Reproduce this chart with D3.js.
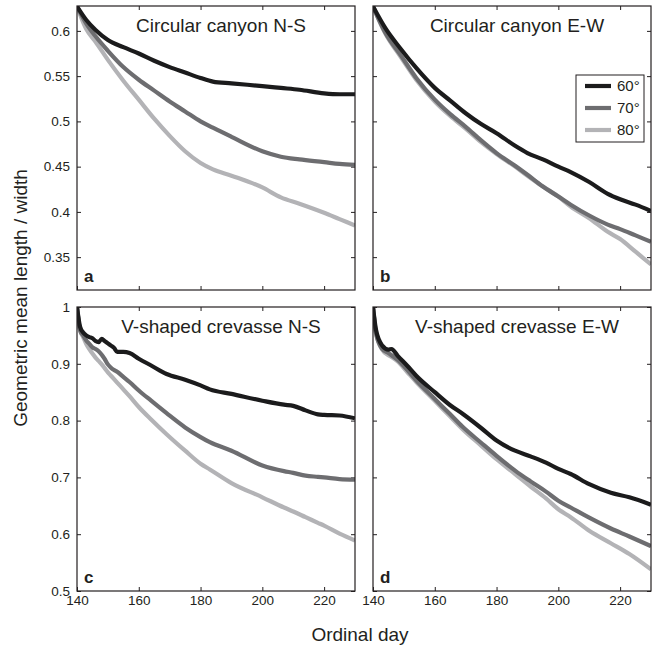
<!DOCTYPE html>
<html>
<head>
<meta charset="utf-8">
<script src="https://cdnjs.cloudflare.com/ajax/libs/d3/7.8.5/d3.min.js"></script>
<style>
	body { margin: 0; background: #fff; }
	text { font-family: "Liberation Sans", Arial, sans-serif; fill: #231f20; }
</style>
</head>
<body>
<div id="mainchart"></div>
<script>
// Datos
// ========================
var seriesNames = ["60°", "70°", "80°"];
var xTicks = [140, 160, 180, 200, 220];
var yTicksTop = [0.35, 0.4, 0.45, 0.5, 0.55, 0.6];
var yTicksBottom = [0.5, 0.6, 0.7, 0.8, 0.9, 1];

// a - Circular canyon N-S
var daysA = [140,143,146,150,155,160,165,170,175,180,184,190,200,206,212,220,225,230];
var a60 = [0.627,0.612,0.601,0.590,0.582,0.575,0.567,0.560,0.554,0.548,0.544,0.542,0.539,0.537,0.535,0.531,0.530,0.530];
var a70 = [0.627,0.608,0.594,0.578,0.560,0.546,0.534,0.522,0.511,0.500,0.493,0.483,0.467,0.461,0.458,0.455,0.453,0.452];
var a80 = [0.627,0.602,0.588,0.568,0.545,0.524,0.503,0.484,0.467,0.454,0.447,0.440,0.427,0.416,0.409,0.399,0.392,0.385];

// b - Circular canyon E-W
var daysB = [140,144,149,154,160,165,170,175,180,186,190,195,200,204,210,216,220,225,230];
var b60 = [0.627,0.603,0.580,0.559,0.537,0.523,0.509,0.497,0.487,0.473,0.465,0.458,0.450,0.444,0.433,0.420,0.414,0.408,0.401];
var b70 = [0.627,0.598,0.573,0.548,0.524,0.508,0.494,0.479,0.465,0.451,0.441,0.428,0.417,0.408,0.396,0.386,0.381,0.374,0.367];
var b80 = [0.627,0.597,0.571,0.546,0.522,0.506,0.492,0.477,0.464,0.450,0.440,0.428,0.417,0.406,0.393,0.378,0.370,0.356,0.342];

// c - V-shaped crevasse N-S
var daysC = [140,141,142,143,144,145,146,147,148,149,150,151,152,153,155,157,160,164,169,175,180,183,190,200,207,210,214,218,220,225,230];
var c60 = [1.0,0.965,0.955,0.950,0.947,0.945,0.940,0.938,0.944,0.940,0.936,0.932,0.928,0.921,0.921,0.919,0.909,0.897,0.882,0.872,0.862,0.855,0.847,0.835,0.828,0.826,0.818,0.811,0.810,0.809,0.804];
var c70 = [1.0,0.959,0.950,0.941,0.935,0.929,0.926,0.922,0.916,0.908,0.899,0.893,0.889,0.886,0.877,0.868,0.853,0.835,0.813,0.788,0.771,0.762,0.747,0.721,0.711,0.708,0.703,0.701,0.700,0.697,0.696];
var c80 = [1.0,0.959,0.947,0.935,0.926,0.918,0.911,0.905,0.899,0.892,0.885,0.879,0.873,0.867,0.855,0.843,0.824,0.802,0.776,0.747,0.724,0.714,0.690,0.665,0.647,0.640,0.630,0.620,0.615,0.601,0.589];

// d - V-shaped crevasse E-W
var daysD = [140,141,143,145,146,148,151,154,160,165,169,175,180,186,191,196,200,204,210,217,223,230];
var d60 = [1.0,0.959,0.932,0.925,0.926,0.914,0.897,0.879,0.850,0.827,0.812,0.787,0.765,0.747,0.737,0.726,0.715,0.706,0.688,0.673,0.665,0.652];
var d70 = [1.0,0.953,0.926,0.919,0.915,0.907,0.890,0.871,0.838,0.811,0.789,0.761,0.738,0.712,0.693,0.675,0.659,0.647,0.629,0.610,0.596,0.579];
var d80 = [1.0,0.953,0.925,0.915,0.912,0.904,0.886,0.868,0.835,0.807,0.785,0.756,0.732,0.706,0.684,0.663,0.644,0.630,0.606,0.584,0.565,0.538];

var colors = ["#1b1b1c", "#6d6d70", "#b3b3b6"];

// Paneles
var panels = [
	{title: "Circular canyon N-S", letter: "a", days: daysA, series: [a60, a70, a80], col: 0, row: 0},
	{title: "Circular canyon E-W", letter: "b", days: daysB, series: [b60, b70, b80], col: 1, row: 0, legend: true},
	{title: "V-shaped crevasse N-S", letter: "c", days: daysC, series: [c60, c70, c80], col: 0, row: 1},
	{title: "V-shaped crevasse E-W", letter: "d", days: daysD, series: [d60, d70, d80], col: 1, row: 1}
];

var colX = [77, 373], rowY = [6, 307];
var pw = 278, ph = 284;

var svg = d3.select("#mainchart").append("svg")
	.attr("width", 660)
	.attr("height", 650);

var x = d3.scaleLinear().domain([140, 230]).range([0, pw]);
var yTop = d3.scaleLinear().domain([0.3137, 0.6275]).range([ph, 0]);
var yBottom = d3.scaleLinear().domain([0.5, 1]).range([ph, 0]);

panels.forEach(function(p, k) {
	var y = p.row == 0 ? yTop : yBottom;
	var yTicks = p.row == 0 ? yTicksTop : yTicksBottom;

	var g = svg.append("g")
		.attr("transform", "translate(" + colX[p.col] + "," + rowY[p.row] + ")");

	g.append("clipPath").attr("id", "clip" + k)
		.append("rect").attr("width", pw).attr("height", ph);

	// ticks hacia adentro en los cuatro lados
	g.append("g").attr("transform", "translate(0," + ph + ")")
		.call(d3.axisBottom(x).tickValues(xTicks).tickSizeInner(-4).tickSizeOuter(0).tickPadding(4)
			.tickFormat(p.row == 1 ? d3.format("d") : ""));
	g.append("g")
		.call(d3.axisTop(x).tickValues(xTicks).tickSizeInner(-4).tickSizeOuter(0).tickFormat(""));
	g.append("g")
		.call(d3.axisLeft(y).tickValues(yTicks).tickSizeInner(-4).tickSizeOuter(0).tickPadding(7)
			.tickFormat(p.col == 0 ? function(v) { return String(v); } : ""));
	g.append("g").attr("transform", "translate(" + pw + ",0)")
		.call(d3.axisRight(y).tickValues(yTicks).tickSizeInner(-4).tickSizeOuter(0).tickFormat(""));

	g.selectAll(".domain").remove();
	g.selectAll(".tick line").attr("stroke", "#231f20");
	g.selectAll(".tick text").attr("font-size", 13.5).attr("fill", "#231f20")
		.style("font-family", "'Liberation Sans', Arial, sans-serif");

	// lineas
	var line = d3.line()
		.x(function(d) { return x(d[0]); })
		.y(function(d) { return y(d[1]); })
		.curve(d3.curveMonotoneX);

	var lines = g.append("g").attr("clip-path", "url(#clip" + k + ")");
	p.series.slice().reverse().forEach(function(vals, j) {
		var i = p.series.length - 1 - j;
		lines.append("path")
			.datum(p.days.map(function(d, n) { return [d, vals[n]]; }))
			.attr("fill", "none")
			.attr("stroke", colors[i])
			.attr("stroke-width", 4.2)
			.attr("stroke-linejoin", "round")
			.attr("d", line);
	});

	// marco
	g.append("rect")
		.attr("width", pw).attr("height", ph)
		.attr("fill", "none").attr("stroke", "#231f20").attr("stroke-width", 1.2);

	g.append("text")
		.attr("x", pw / 2 + 5).attr("y", 25.5)
		.attr("text-anchor", "middle")
		.attr("font-size", 19)
		.text(p.title);

	g.append("text")
		.attr("x", 7).attr("y", ph - 8)
		.attr("font-size", 17).attr("font-weight", "bold")
		.text(p.letter);

	if (p.legend) {
		var lg = g.append("g").attr("transform", "translate(203,69)");
		lg.append("rect").attr("width", 68).attr("height", 67)
			.attr("fill", "#fff").attr("stroke", "#231f20").attr("stroke-width", 1);
		seriesNames.forEach(function(name, i) {
			lg.append("line")
				.attr("x1", 9).attr("x2", 35)
				.attr("y1", 11 + i * 22).attr("y2", 11 + i * 22)
				.attr("stroke", colors[i]).attr("stroke-width", 4.2);
			lg.append("text")
				.attr("x", 41).attr("y", 16 + i * 22)
				.attr("font-size", 15)
				.text(name);
		});
	}
});

// titulos de ejes
svg.append("text")
	.attr("x", 360).attr("y", 641)
	.attr("text-anchor", "middle")
	.attr("font-size", 19)
	.text("Ordinal day");

svg.append("text")
	.attr("transform", "translate(27,298) rotate(-90)")
	.attr("text-anchor", "middle")
	.attr("font-size", 19)
	.text("Geometric mean length / width");
</script>
</body>
</html>
